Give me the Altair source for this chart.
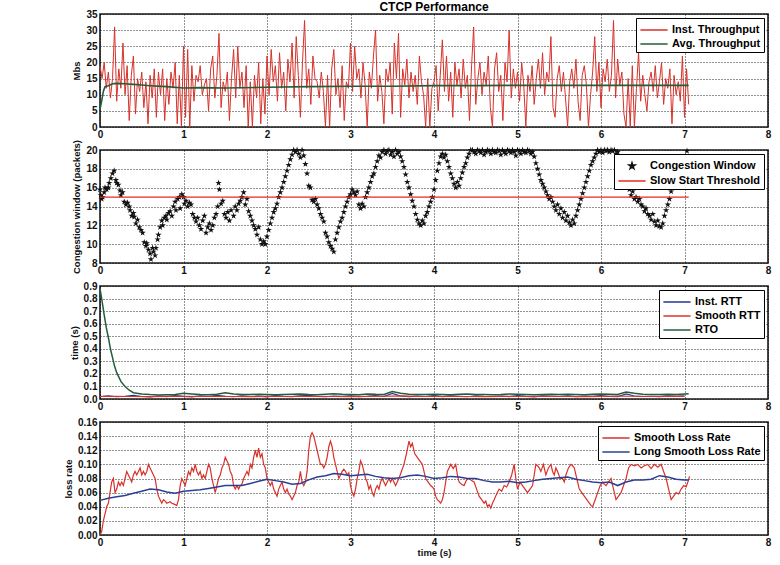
import altair as alt
import pandas as pd

# ---------------- data ----------------
TP_DT = 0.025
inst_tp = [
    19, 15, 20, 12, 17, 9, 15, 31, 8, 18, 12, 26, 10, 19, 2, 16, 22, 4, 15, 11,
    17, 6, 14, 1, 16, 9, 18, 3, 17, 10, 18, 2, 15, 7, 17, 12, 20, 1, 16, 0,
    25, 3, 24, 0, 19, 8, 16, 14, 19, 10, 13, 15, 5, 18, 22, 9, 16, 29, 6, 14,
    11, 17, 2, 15, 24, 9, 25, 12, 17, 6, 19, 0, 14, 0, 16, 9, 20, 1, 15, 4,
    22, 10, 24, 14, 19, 8, 23, 12, 17, 5, 21, 14, 26, 9, 28, 16, 3, 20, 33, 12,
    18, 7, 22, 15, 14, 9, 17, 11, 0, 16, 0, 18, 24, 10, 15, 6, 19, 2, 14, 12,
    26, 11, 25, 15, 18, 9, 20, 13, 0, 17, 12, 22, 30, 8, 16, 11, 1, 18, 14, 20,
    4, 26, 15, 29, 3, 18, 13, 21, 9, 17, 11, 16, 7, 22, 14, 10, 0, 15, 0, 12,
    14, 19, 5, 16, 27, 11, 22, 8, 17, 3, 20, 13, 18, 9, 21, 12, 16, 2, 19, 31,
    7, 15, 20, 10, 17, 13, 22, 6, 0, 18, 23, 11, 16, 2, 20, 14, 30, 9, 18, 12,
    17, 8, 20, 13, 0, 16, 11, 19, 7, 15, 21, 12, 23, 10, 17, 14, 28, 6, 3, 15,
    19, 11, 17, 9, 0, 14, 18, 12, 21, 8, 2, 16, 19, 13, 0, 10, 17, 28, 11, 20,
    6, 18, 14, 21, 11, 16, 33, 9, 21, 13, 17, 4, 0, 15, 0, 19, 0, 12, 23, 8,
    16, 10, 5, 14, 17, 11, 19, 9, 14, 20, 7, 15, 12, 18, 1, 16, 10, 14, 8, 22,
    3, 18, 7,
]
avg_tp_t = [0, 0.02, 0.04, 0.06, 0.1, 0.15, 0.2, 0.3, 0.4, 0.5, 0.6, 0.8, 1.0,
            1.2, 1.5, 2.0, 2.5, 3.0, 3.5, 4.0, 4.5, 5.0, 5.5, 6.0, 6.5, 7.05]
avg_tp = [5.5, 8, 11, 12.5, 12.8, 13.4, 13.5, 13.4, 13.2, 13.0, 12.8, 12.5, 12.1,
          12.2, 12.1, 12.3, 12.5, 12.6, 12.6, 12.8, 12.8, 12.9, 12.9, 12.9, 12.9, 12.9]

cwnd_points = [
    (0.00, 15.8), (0.01, 15.2), (0.02, 14.8), (0.03, 15.0), (0.05, 15.5), (0.06, 16.0),
    (0.08, 15.8), (0.10, 16.0), (0.11, 16.5), (0.13, 17.0), (0.15, 17.5), (0.17, 17.8),
    (0.19, 16.8), (0.20, 16.5), (0.22, 16.3), (0.24, 15.7), (0.25, 15.2), (0.27, 15.5),
    (0.29, 14.5), (0.31, 14.2), (0.33, 14.4), (0.35, 14.0), (0.36, 13.6), (0.38, 13.0),
    (0.40, 13.3), (0.41, 12.9), (0.43, 12.2), (0.45, 12.6), (0.47, 11.8), (0.49, 11.5),
    (0.51, 11.2), (0.53, 10.2), (0.55, 9.8), (0.56, 10.1), (0.58, 9.4), (0.60, 9.0),
    (0.61, 8.4), (0.63, 9.6), (0.64, 9.2), (0.66, 8.8), (0.67, 9.6), (0.69, 10.5),
    (0.70, 11.0), (0.72, 11.8), (0.74, 12.5), (0.75, 12.0), (0.77, 12.8), (0.79, 13.0),
    (0.80, 12.6), (0.82, 13.3), (0.84, 13.5), (0.86, 13.0), (0.88, 14.0), (0.90, 14.5),
    (0.91, 13.6), (0.93, 14.8), (0.95, 15.0), (0.96, 13.8), (0.98, 15.3), (1.00, 15.0),
    (1.01, 14.3), (1.03, 14.6), (1.05, 14.0), (1.07, 14.4), (1.09, 14.2), (1.11, 13.2),
    (1.13, 12.8), (1.15, 12.4), (1.17, 12.8), (1.19, 12.0), (1.21, 11.6), (1.23, 12.5),
    (1.25, 13.0), (1.27, 11.2), (1.29, 11.8), (1.31, 12.2), (1.33, 11.5), (1.35, 12.0),
    (1.37, 12.8), (1.39, 13.2), (1.41, 14.0), (1.42, 16.5), (1.43, 15.8), (1.45, 14.3),
    (1.47, 14.6), (1.49, 13.2), (1.51, 12.8), (1.53, 13.4), (1.55, 12.5), (1.57, 13.6),
    (1.60, 13.0), (1.62, 14.0), (1.64, 13.6), (1.66, 14.3), (1.68, 14.6), (1.70, 15.0),
    (1.72, 15.5), (1.74, 14.2), (1.76, 14.8), (1.78, 13.5), (1.80, 13.0), (1.82, 12.5),
    (1.84, 12.0), (1.86, 11.6), (1.88, 11.0), (1.90, 11.8), (1.92, 10.5), (1.94, 10.0),
    (1.96, 10.3), (1.98, 10.0), (2.00, 10.8), (2.02, 11.5), (2.04, 12.2), (2.06, 12.8),
    (2.08, 13.4), (2.10, 13.8), (2.12, 14.3), (2.14, 15.0), (2.16, 15.5), (2.18, 16.0),
    (2.20, 16.6), (2.22, 17.2), (2.24, 17.8), (2.26, 18.4), (2.28, 19.0), (2.30, 19.5),
    (2.32, 20.0), (2.34, 19.8), (2.36, 20.0), (2.38, 19.6), (2.40, 19.2), (2.42, 20.0),
    (2.44, 19.4), (2.46, 18.5), (2.48, 17.5), (2.50, 16.2), (2.52, 16.0), (2.54, 14.7),
    (2.56, 14.5), (2.58, 14.8), (2.60, 14.2), (2.62, 13.8), (2.64, 13.2), (2.66, 12.8),
    (2.68, 12.4), (2.70, 11.2), (2.72, 10.8), (2.74, 10.2), (2.76, 9.8), (2.78, 9.5),
    (2.80, 9.2), (2.82, 10.5), (2.84, 11.2), (2.86, 11.8), (2.88, 12.4), (2.90, 12.8),
    (2.92, 13.4), (2.94, 14.0), (2.96, 14.5), (2.98, 15.0), (3.00, 15.3), (3.02, 15.8),
    (3.04, 15.5), (3.06, 15.2), (3.08, 15.6), (3.10, 14.2), (3.12, 13.8), (3.14, 14.3),
    (3.16, 14.0), (3.18, 15.0), (3.20, 15.5), (3.22, 16.0), (3.24, 16.6), (3.26, 17.2),
    (3.28, 17.5), (3.30, 18.2), (3.32, 18.8), (3.34, 19.4), (3.36, 19.2), (3.38, 19.8),
    (3.40, 20.0), (3.42, 19.6), (3.44, 19.9), (3.46, 20.0), (3.48, 19.5), (3.50, 19.8),
    (3.52, 19.3), (3.54, 20.0), (3.56, 19.6), (3.58, 19.8), (3.60, 19.3), (3.62, 18.8),
    (3.64, 18.2), (3.66, 17.4), (3.68, 16.6), (3.70, 16.0), (3.72, 15.3), (3.74, 14.6),
    (3.76, 14.0), (3.78, 13.2), (3.80, 12.6), (3.82, 12.2), (3.84, 12.0), (3.86, 12.5),
    (3.88, 12.2), (3.90, 13.0), (3.92, 13.4), (3.94, 14.0), (3.96, 14.5), (3.98, 15.0),
    (4.00, 15.8), (4.02, 16.8), (4.04, 17.8), (4.06, 18.6), (4.08, 19.3), (4.10, 19.6),
    (4.12, 19.2), (4.14, 19.5), (4.16, 18.8), (4.18, 18.2), (4.20, 17.5), (4.22, 17.0),
    (4.24, 16.4), (4.26, 16.0), (4.28, 16.6), (4.30, 16.2), (4.32, 17.0), (4.34, 17.6),
    (4.36, 18.2), (4.38, 18.6), (4.40, 19.2), (4.42, 19.6), (4.44, 20.0), (4.46, 20.0),
    (4.48, 19.8), (4.50, 19.6), (4.52, 20.0), (4.54, 19.9), (4.56, 19.7), (4.58, 20.0),
    (4.60, 19.5), (4.62, 19.8), (4.64, 20.0), (4.66, 19.9), (4.68, 19.6), (4.70, 20.0),
    (4.72, 19.8), (4.74, 19.7), (4.76, 20.0), (4.78, 19.9), (4.80, 19.5), (4.82, 20.0),
    (4.84, 19.8), (4.86, 19.6), (4.88, 20.0), (4.90, 19.9), (4.92, 19.7), (4.94, 20.0),
    (4.96, 19.8), (4.98, 19.4), (5.00, 20.0), (5.02, 19.9), (5.04, 19.6), (5.06, 20.0),
    (5.08, 19.8), (5.10, 19.7), (5.12, 20.0), (5.14, 19.9), (5.16, 19.6), (5.18, 19.8),
    (5.20, 19.3), (5.22, 18.6), (5.24, 18.0), (5.26, 17.4), (5.28, 16.8), (5.30, 16.4),
    (5.32, 16.0), (5.34, 15.6), (5.36, 15.2), (5.38, 14.8), (5.40, 15.0), (5.42, 14.5),
    (5.44, 14.0), (5.46, 13.6), (5.48, 14.2), (5.50, 13.2), (5.52, 13.8), (5.54, 12.8),
    (5.56, 13.4), (5.58, 12.5), (5.60, 13.0), (5.62, 12.3), (5.64, 12.0), (5.66, 12.6),
    (5.68, 12.2), (5.70, 13.0), (5.72, 13.6), (5.74, 14.2), (5.76, 14.8), (5.78, 15.4),
    (5.80, 16.0), (5.82, 16.6), (5.84, 17.2), (5.86, 17.8), (5.88, 18.4), (5.90, 18.8),
    (5.92, 19.2), (5.94, 19.6), (5.96, 20.0), (5.98, 19.8), (6.00, 20.0), (6.02, 19.7),
    (6.04, 20.0), (6.06, 19.9), (6.08, 20.0), (6.10, 19.8), (6.12, 20.0), (6.14, 19.9),
    (6.16, 20.0), (6.18, 19.6), (6.20, 19.8), (6.22, 19.0), (6.24, 18.4), (6.26, 17.8),
    (6.28, 17.2), (6.30, 16.6), (6.32, 16.2), (6.34, 15.8), (6.36, 15.2), (6.38, 15.6),
    (6.40, 14.8), (6.42, 15.0), (6.44, 14.5), (6.46, 14.8), (6.48, 14.2), (6.50, 14.0),
    (6.52, 13.5), (6.54, 13.8), (6.56, 13.2), (6.58, 13.0), (6.60, 12.6), (6.62, 13.2),
    (6.64, 12.4), (6.66, 12.0), (6.68, 12.5), (6.70, 11.9), (6.72, 11.8), (6.74, 12.2),
    (6.76, 13.0), (6.78, 13.6), (6.80, 14.2), (6.82, 14.8), (6.84, 15.6), (7.03, 19.9),
]
ssthresh_t = [0.0, 7.05]
ssthresh = [15, 15]

RTT_DT = 0.1
inst_rtt = [
    0.020, 0.025, 0.018, 0.022, 0.030, 0.020, 0.016, 0.024, 0.019, 0.028,
    0.021, 0.017, 0.025, 0.020, 0.030, 0.022, 0.018, 0.026, 0.020, 0.023,
    0.017, 0.027, 0.021, 0.019, 0.025, 0.030, 0.020, 0.018, 0.024, 0.021,
    0.026, 0.019, 0.022, 0.028, 0.020, 0.045, 0.024, 0.018, 0.023, 0.020,
    0.027, 0.019, 0.025, 0.021, 0.018, 0.026, 0.022, 0.020, 0.024, 0.019,
    0.028, 0.021, 0.017, 0.025, 0.022, 0.020, 0.026, 0.019, 0.023, 0.021,
    0.027, 0.020, 0.018, 0.040, 0.024, 0.020, 0.022, 0.019, 0.025, 0.021,
    0.026,
]
SRTT_DT = 0.2
smooth_rtt = [
    0.020, 0.021, 0.020, 0.019, 0.021, 0.022, 0.020, 0.021, 0.020, 0.019,
    0.021, 0.020, 0.022, 0.021, 0.020, 0.019, 0.021, 0.022, 0.025, 0.021,
    0.020, 0.021, 0.020, 0.019, 0.021, 0.020, 0.022, 0.021, 0.020, 0.019,
    0.021, 0.024, 0.022, 0.020, 0.021, 0.021,
]
rto_t = [0.0, 0.025, 0.05, 0.075, 0.1, 0.125, 0.15, 0.175, 0.2, 0.25, 0.3, 0.35,
         0.4, 0.5, 0.6, 0.7, 0.8, 0.9, 1.0, 1.1, 1.2, 1.3, 1.4, 1.5, 1.6, 1.7,
         1.8, 1.9, 2.0, 2.1, 2.2, 2.3, 2.4, 2.5, 2.6, 2.7, 2.8, 2.9, 3.0, 3.1,
         3.2, 3.3, 3.4, 3.5, 3.6, 3.7, 3.8, 3.9, 4.0, 4.1, 4.2, 4.3, 4.4, 4.5,
         4.6, 4.7, 4.8, 4.9, 5.0, 5.1, 5.2, 5.3, 5.4, 5.5, 5.6, 5.7, 5.8, 5.9,
         6.0, 6.1, 6.2, 6.3, 6.4, 6.5, 6.6, 6.7, 6.8, 6.9, 7.0, 7.05]
rto = [0.88, 0.78, 0.67, 0.57, 0.49, 0.40, 0.33, 0.26, 0.21, 0.14, 0.10, 0.07,
       0.050, 0.040, 0.035, 0.032, 0.033, 0.035, 0.045, 0.040, 0.036, 0.034,
       0.038, 0.050, 0.040, 0.036, 0.035, 0.038, 0.036, 0.034, 0.035, 0.037,
       0.040, 0.036, 0.034, 0.038, 0.042, 0.037, 0.035, 0.034, 0.040, 0.037,
       0.036, 0.060, 0.045, 0.038, 0.036, 0.035, 0.038, 0.036, 0.034, 0.037,
       0.040, 0.036, 0.035, 0.034, 0.036, 0.040, 0.038, 0.035, 0.033, 0.036,
       0.038, 0.035, 0.037, 0.036, 0.034, 0.037, 0.040, 0.038, 0.036, 0.055,
       0.045, 0.038, 0.036, 0.035, 0.037, 0.036, 0.040, 0.042]

LOSS_DT = 0.02
smooth_loss_head = [
    0.000, 0.005, 0.020, 0.030, 0.040, 0.045, 0.060, 0.075, 0.080, 0.060,
    0.065, 0.075, 0.070, 0.075, 0.070, 0.080, 0.090, 0.085, 0.080, 0.075,
    0.085, 0.090, 0.085, 0.090, 0.095, 0.085, 0.090, 0.085, 0.090, 0.100,
    0.095, 0.090, 0.085, 0.080, 0.065, 0.055, 0.050, 0.045, 0.050, 0.048,
    0.045, 0.046, 0.047, 0.045, 0.044, 0.043, 0.042, 0.050, 0.070, 0.080,
    0.075, 0.070, 0.080, 0.090, 0.085, 0.095, 0.090, 0.100, 0.090, 0.085,
    0.090, 0.080, 0.085, 0.080, 0.090, 0.100, 0.095, 0.080, 0.070, 0.060,
    0.070, 0.080, 0.085, 0.095, 0.100, 0.110, 0.105, 0.100, 0.090, 0.085,
    0.070, 0.065, 0.070, 0.065, 0.070, 0.072, 0.080, 0.085, 0.090, 0.085,
    0.100, 0.095, 0.110, 0.120, 0.110, 0.123, 0.110, 0.115, 0.100, 0.095,
    0.080, 0.075, 0.070, 0.075, 0.065, 0.060, 0.055, 0.065, 0.070, 0.075,
    0.065, 0.060, 0.065, 0.058, 0.055, 0.050, 0.055, 0.060, 0.070, 0.075,
    0.090, 0.075, 0.070, 0.075, 0.090, 0.120, 0.140, 0.145, 0.140, 0.130,
    0.120, 0.110, 0.100, 0.100, 0.095, 0.100, 0.110, 0.125, 0.133, 0.125,
    0.110, 0.100, 0.090, 0.080, 0.085, 0.090, 0.093, 0.090, 0.085, 0.088,
    0.070, 0.060, 0.055, 0.065, 0.080, 0.090, 0.105, 0.100, 0.090, 0.080,
    0.075, 0.065, 0.070, 0.060, 0.055, 0.065, 0.070, 0.065, 0.075, 0.080,
    0.075, 0.070, 0.075, 0.080, 0.075, 0.080, 0.075, 0.070, 0.075,
]
smooth_loss_tail = [
    (3.58, 0.080), (3.61, 0.090), (3.64, 0.100), (3.67, 0.115), (3.70, 0.133),
    (3.72, 0.125), (3.74, 0.130), (3.77, 0.115), (3.80, 0.110), (3.83, 0.105),
    (3.86, 0.100), (3.88, 0.090), (3.90, 0.080), (3.93, 0.075), (3.96, 0.070),
    (3.98, 0.068), (4.00, 0.065), (4.02, 0.055), (4.04, 0.050), (4.06, 0.048),
    (4.08, 0.045), (4.10, 0.050), (4.12, 0.060), (4.14, 0.075), (4.16, 0.090),
    (4.18, 0.095), (4.20, 0.100), (4.23, 0.094), (4.26, 0.100), (4.28, 0.085),
    (4.30, 0.075), (4.33, 0.072), (4.36, 0.070), (4.39, 0.078), (4.42, 0.080),
    (4.45, 0.077), (4.48, 0.075), (4.51, 0.065), (4.54, 0.055), (4.57, 0.050),
    (4.60, 0.045), (4.62, 0.048), (4.64, 0.040), (4.66, 0.043), (4.68, 0.038),
    (4.70, 0.045), (4.72, 0.050), (4.75, 0.058), (4.78, 0.065), (4.81, 0.062),
    (4.84, 0.070), (4.87, 0.068), (4.90, 0.075), (4.93, 0.085), (4.96, 0.100),
    (4.98, 0.080), (5.00, 0.065), (5.03, 0.075), (5.06, 0.070), (5.09, 0.065),
    (5.12, 0.060), (5.15, 0.065), (5.18, 0.070), (5.20, 0.085), (5.22, 0.100),
    (5.24, 0.098), (5.26, 0.095), (5.28, 0.090), (5.31, 0.100), (5.34, 0.085),
    (5.37, 0.095), (5.40, 0.100), (5.42, 0.090), (5.44, 0.085), (5.46, 0.095),
    (5.48, 0.090), (5.51, 0.080), (5.54, 0.080), (5.56, 0.075), (5.58, 0.085),
    (5.61, 0.095), (5.64, 0.100), (5.66, 0.098), (5.68, 0.095), (5.71, 0.080),
    (5.74, 0.065), (5.77, 0.060), (5.80, 0.055), (5.83, 0.050), (5.86, 0.045),
    (5.88, 0.042), (5.90, 0.040), (5.93, 0.050), (5.96, 0.060), (5.99, 0.070),
    (6.02, 0.075), (6.04, 0.072), (6.06, 0.070), (6.09, 0.075), (6.12, 0.080),
    (6.15, 0.065), (6.18, 0.050), (6.21, 0.055), (6.24, 0.060), (6.27, 0.070),
    (6.30, 0.080), (6.33, 0.095), (6.36, 0.100), (6.40, 0.098), (6.44, 0.100),
    (6.48, 0.095), (6.52, 0.098), (6.56, 0.100), (6.60, 0.094), (6.64, 0.100),
    (6.68, 0.096), (6.72, 0.100), (6.75, 0.090), (6.78, 0.080), (6.81, 0.065),
    (6.84, 0.050), (6.87, 0.055), (6.90, 0.060), (6.93, 0.058), (6.96, 0.065),
    (6.99, 0.070), (7.02, 0.068), (7.04, 0.075), (7.06, 0.083),
]
LONG_DT = 0.1
long_loss = [
    0.049, 0.052, 0.054, 0.056, 0.059, 0.062, 0.065, 0.064, 0.061, 0.059,
    0.062, 0.063, 0.064, 0.066, 0.068, 0.070, 0.070, 0.070, 0.073, 0.076,
    0.079, 0.077, 0.075, 0.072, 0.073, 0.078, 0.082, 0.084, 0.087, 0.086,
    0.084, 0.085, 0.086, 0.083, 0.081, 0.080, 0.081, 0.084, 0.085, 0.083,
    0.080, 0.081, 0.083, 0.082, 0.080, 0.080, 0.077, 0.075, 0.075, 0.076,
    0.074, 0.075, 0.077, 0.079, 0.080, 0.081, 0.082, 0.079, 0.077, 0.075,
    0.074, 0.075, 0.070, 0.075, 0.078, 0.078, 0.079, 0.084, 0.082, 0.079,
    0.078,
]

# ---------------- styling ----------------
RED = "#d8312a"
GREEN = "#245c3c"
BLUE = "#2a3f95"
FONT = "Liberation Sans"
STAR = ("M0,-1L0.2245,-0.309L0.951,-0.309L0.363,0.118L0.588,0.809L0,0.382"
        "L-0.588,0.809L-0.363,0.118L-0.951,-0.309L-0.2245,-0.309Z")
# legend samples: a long line stub and a small star
LINE_SYM = "M-1.7,0L1.7,0"
STAR_LEG = ("M0,-0.4L0.0898,-0.1236L0.3804,-0.1236L0.1452,0.0472L0.2352,0.3236"
            "L0,0.1528L-0.2352,0.3236L-0.1452,0.0472L-0.3804,-0.1236L-0.0898,-0.1236Z")
W, H = 668, 113


def legend(**kw):
    base = dict(
        title=None, orient="top-right", offset=4, fillColor="white",
        strokeColor="black", padding=3, rowPadding=0, labelFont=FONT,
        labelFontSize=11, labelFontWeight="bold", labelColor="black",
        symbolType=LINE_SYM, symbolSize=256, symbolStrokeWidth=1.5,
        symbolOffset=6, labelOffset=9, cornerRadius=0,
    )
    base.update(kw)
    return alt.Legend(**base)


def xaxis(title=None):
    ax = alt.Axis(values=list(range(9)), format="d", title=title) if title else \
        alt.Axis(values=list(range(9)), format="d", title=None)
    return alt.X("t:Q", scale=alt.Scale(domain=[0, 8], nice=False), axis=ax)


# ---- panel 1: throughput ----
tp_names = ["Inst. Throughput", "Avg. Throughput"]
df_inst = pd.DataFrame({"t": [round(i * TP_DT, 4) for i in range(len(inst_tp))],
                        "v": inst_tp, "series": tp_names[0]})
df_avg = pd.DataFrame({"t": avg_tp_t, "v": avg_tp, "series": tp_names[1]})
tp_color = alt.Color("series:N", scale=alt.Scale(domain=tp_names, range=[RED, GREEN]),
                     legend=legend())
tp_y = alt.Y("v:Q", scale=alt.Scale(domain=[0, 35], nice=False),
             axis=alt.Axis(values=list(range(0, 36, 5)), title="Mbs"))
p1 = alt.layer(
    alt.Chart(df_inst).mark_line(strokeWidth=1).encode(x=xaxis(), y=tp_y, color=tp_color),
    alt.Chart(df_avg).mark_line(strokeWidth=1.6).encode(x=xaxis(), y=tp_y, color=tp_color),
).properties(width=W, height=H,
             title=alt.TitleParams("CTCP Performance", font=FONT, fontSize=12,
                                   fontWeight="bold", color="black", offset=-5))

# ---- panel 2: congestion window ----
cw_names = ["Congestion Window", "Slow Start Threshold"]
df_cw = pd.DataFrame(cwnd_points, columns=["t", "v"])
df_ss = pd.DataFrame({"t": ssthresh_t, "v": ssthresh, "series": cw_names[1]})
cw_y = alt.Y("v:Q", scale=alt.Scale(domain=[8, 20], nice=False),
             axis=alt.Axis(values=list(range(8, 21, 2)), title="Congestion window (packets)"))
is_cw = "datum.value === 'Congestion Window'"
cw_legend = legend(
    symbolType=alt.ExprRef(expr=f"{is_cw} ? '{STAR_LEG}' : '{LINE_SYM}'"),
    symbolFillColor=alt.ExprRef(expr=f"{is_cw} ? '#111' : 'transparent'"),
)
p2 = alt.layer(
    alt.Chart(df_cw).mark_point(shape=STAR, filled=True, size=46, color="#111",
                                opacity=1).encode(x=xaxis(), y=cw_y),
    alt.Chart(df_ss).mark_line(strokeWidth=1.3).encode(
        x=xaxis(), y=cw_y,
        color=alt.Color("series:N", scale=alt.Scale(domain=cw_names, range=["#111", "#e8261e"]),
                        legend=cw_legend)),
).properties(width=W, height=H)

# ---- panel 3: RTT ----
rtt_names = ["Inst. RTT", "Smooth RTT", "RTO"]
df_irtt = pd.DataFrame({"t": [round(i * RTT_DT, 3) for i in range(len(inst_rtt))],
                        "v": inst_rtt, "series": rtt_names[0]})
df_srtt = pd.DataFrame({"t": [round(i * SRTT_DT, 3) for i in range(len(smooth_rtt))],
                        "v": smooth_rtt, "series": rtt_names[1]})
df_rto = pd.DataFrame({"t": rto_t, "v": rto, "series": rtt_names[2]})
rtt_color = alt.Color("series:N", scale=alt.Scale(domain=rtt_names,
                                                  range=["#23359a", "#e0302a", GREEN]),
                      legend=legend())
rtt_y = alt.Y("v:Q", scale=alt.Scale(domain=[0, 0.9], nice=False),
              axis=alt.Axis(values=[i / 10 for i in range(10)], format=".1f", title="time (s)"))
p3 = alt.layer(
    alt.Chart(df_irtt).mark_line(strokeWidth=1.2).encode(x=xaxis(), y=rtt_y, color=rtt_color),
    alt.Chart(df_srtt).mark_line(strokeWidth=1.2).encode(x=xaxis(), y=rtt_y, color=rtt_color),
    alt.Chart(df_rto).mark_line(strokeWidth=1.5).encode(x=xaxis(), y=rtt_y, color=rtt_color),
).properties(width=W, height=H)

# ---- panel 4: loss rate ----
loss_names = ["Smooth Loss Rate", "Long Smooth Loss Rate"]
sl_t = [round(i * LOSS_DT, 3) for i in range(len(smooth_loss_head))] + [p[0] for p in smooth_loss_tail]
sl_v = smooth_loss_head + [p[1] for p in smooth_loss_tail]
df_sl = pd.DataFrame({"t": sl_t, "v": sl_v, "series": loss_names[0]})
ll_t = [round(i * LONG_DT, 3) for i in range(len(long_loss))] + [7.05]
ll_v = long_loss + [0.078]
df_ll = pd.DataFrame({"t": ll_t, "v": ll_v, "series": loss_names[1]})
loss_color = alt.Color("series:N", scale=alt.Scale(domain=loss_names, range=[RED, BLUE]),
                       legend=legend())
loss_y = alt.Y("v:Q", scale=alt.Scale(domain=[0, 0.16], nice=False),
               axis=alt.Axis(values=[i / 100 for i in range(0, 17, 2)], format=".2f",
                             title="loss rate"))
p4 = alt.layer(
    alt.Chart(df_sl).mark_line(strokeWidth=1.2).encode(x=xaxis("time (s)"), y=loss_y, color=loss_color),
    alt.Chart(df_ll).mark_line(strokeWidth=1.5).encode(x=xaxis("time (s)"), y=loss_y, color=loss_color),
).properties(width=W, height=H)

chart = alt.vconcat(p1, p2, p3, p4, spacing=23, bounds="flush").resolve_scale(
    color="independent", y="independent"
).properties(
    padding={"left": 62, "top": 0, "right": 6, "bottom": 4}
).configure_view(
    stroke="#1a1a1a", strokeWidth=1.6
).configure_axis(
    grid=True, gridColor="black", gridDash=[1, 2], gridOpacity=0.85, gridWidth=1,
    domain=False, ticks=False, tickSize=0, labelPadding=3,
    labelFont=FONT, labelFontSize=10, labelFontWeight="bold", labelColor="#111",
    titleFont=FONT, titleFontSize=9.5, titleFontWeight="bold", titleColor="#111",
    titlePadding=4, labelFlush=False,
).configure_axisX(titlePadding=0, labelPadding=2)

chart.save("out.html", embed_options={"renderer": "svg", "actions": False})
